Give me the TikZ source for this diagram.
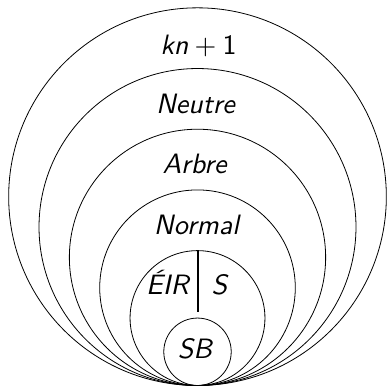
\documentclass[tikz,border=0pt]{standalone}
\begin{document}
\begin{tikzpicture}[x=1pt,y=1pt,
  ring/.style={draw=black,line width=0.8pt},
  lbl/.style={inner sep=0pt,anchor=base,scale=2.8,font=\fontsize{10}{12}\selectfont\sffamily\itshape},
  divider/.style={draw=black,line width=2pt}]
\useasboundingbox (-197.5,-1.5) rectangle (189.5,385.5);
\def\u{33.72}
\coordinate (t) at (0,0);
\foreach \r/\n in {5.6/a,4.7/b,3.8/c,2.9/d,2.0/e,1.0/f}{
  \draw[ring] (0,\r*\u) circle[radius=\r*\u];
  \coordinate (top\n) at (0,2*\r*\u);
}
\node[lbl] (kn) at (1,331.2) {kn${}+{}$\upshape 1};
\node[lbl] (neutre) at (-2,272.2) {Neutre};
\node[lbl] (arbre) at (-3,211.5) {Arbre};
\node[lbl] (normal) at (-1,150.5) {Normal};
\node[lbl] (eir) at (-30,90.5) {ÉIR};
\node[lbl] (s) at (22,90.5) {S};
\node[lbl] (sb) at (-2.5,27.2) {SB};
\coordinate (lineend) at (0,73.8);
\draw[divider] (tope) -- (lineend);
\end{tikzpicture}
\end{document}
